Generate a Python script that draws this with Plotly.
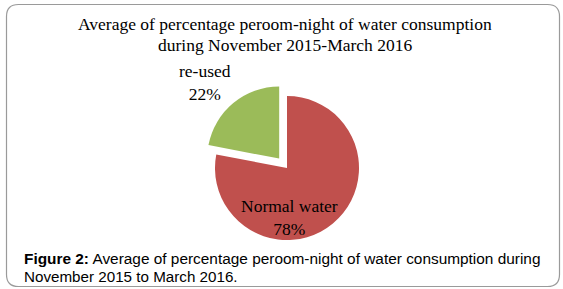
import plotly.graph_objects as go

# ---- data ----
labels = ["Normal water", "re-used"]
values = [78, 22]
colors = ["#C0504D", "#9BBB59"]
pulls = [0, 0.17]
title_lines = ["Average of percentage peroom-night of water consumption",
               "during November 2015-March 2016"]
caption_bold = "Figure 2:"
caption_lines = ["Average of percentage peroom-night of water consumption during",
                 "November 2015 to March 2016."]

W, H = 563, 289

def px(x):
    return x / W

def py(y):
    return 1 - y / H

fig = go.Figure()
fig.add_trace(go.Pie(
    labels=labels, values=values, sort=False, direction="clockwise", rotation=0,
    pull=pulls, marker=dict(colors=colors, line=dict(width=0)),
    textinfo="none", hoverinfo="label+percent", showlegend=False,
    domain=dict(x=[px(287 - 84.25), px(287 + 84.25)], y=[py(168 + 84.25), py(168 - 84.25)]),
))

serif = "Liberation Serif, Times New Roman, serif"
sans = "Liberation Sans, Arial, sans-serif"

ann = []
# title lines
for t, yy in zip(title_lines, [24.5, 45]):
    ann.append(dict(text=t, x=px(284.5), y=py(yy), xref="paper", yref="paper",
                    xanchor="center", yanchor="middle", showarrow=False,
                    font=dict(family=serif, size=17.5, color="#000")))
# slice labels
label_pos = {"re-used": (205, 83), "Normal water": (289, 217)}
for lab, v in zip(labels, values):
    x0, y0 = label_pos[lab]
    ann.append(dict(text=f"{lab}<br>{v}%", x=px(x0), y=py(y0), xref="paper", yref="paper",
                    xanchor="center", yanchor="middle", showarrow=False,
                    font=dict(family=serif, size=17.5, color="#000")))
# caption
ann.append(dict(text=f"<b>{caption_bold}</b> {caption_lines[0]}", x=px(21.5), y=py(258),
                xref="paper", yref="paper", xanchor="left", yanchor="middle", showarrow=False,
                font=dict(family=sans, size=15.4, color="#000")))
ann.append(dict(text=caption_lines[1], x=px(21.5), y=py(276),
                xref="paper", yref="paper", xanchor="left", yanchor="middle", showarrow=False,
                font=dict(family=sans, size=15.2, color="#000")))

# rounded border
l, r, t, b, rad = 6.5, 559.5, 4.5, 286.5, 12
path = (f"M {px(l+rad)},{py(t)} L {px(r-rad)},{py(t)} Q {px(r)},{py(t)} {px(r)},{py(t+rad)} "
        f"L {px(r)},{py(b-rad)} Q {px(r)},{py(b)} {px(r-rad)},{py(b)} "
        f"L {px(l+rad)},{py(b)} Q {px(l)},{py(b)} {px(l)},{py(b-rad)} "
        f"L {px(l)},{py(t+rad)} Q {px(l)},{py(t)} {px(l+rad)},{py(t)} Z")

fig.update_layout(
    width=W, height=H, margin=dict(l=0, r=0, t=0, b=0),
    paper_bgcolor="white", plot_bgcolor="white",
    annotations=ann,
    shapes=[dict(type="path", path=path, xref="paper", yref="paper",
                 line=dict(color="#9A9A9A", width=1.2))],
)
fig.write_html("out.html", config={"displayModeBar": False},
               post_script="document.body.style.margin='0';document.body.style.overflow='hidden';")
